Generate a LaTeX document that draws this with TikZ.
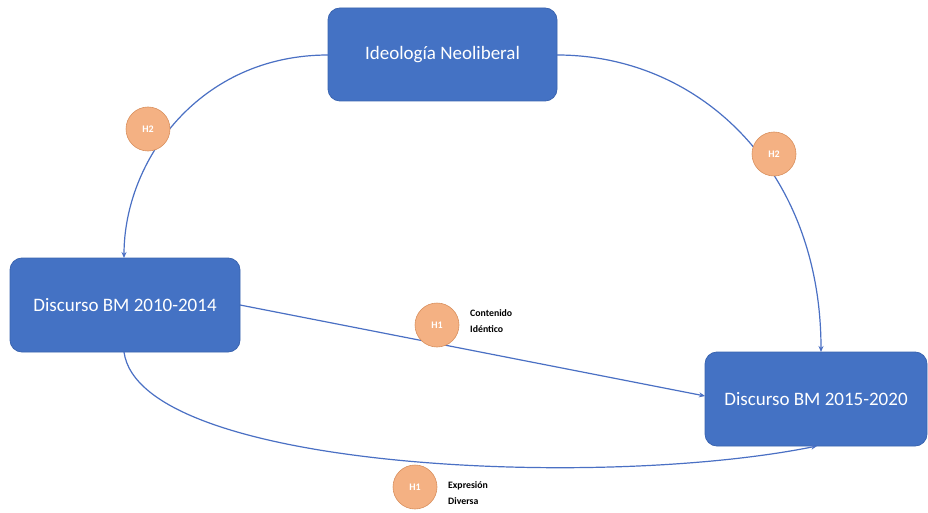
\documentclass[tikz,border=0pt]{standalone}
\usepackage{fontspec}
\setmainfont{Carlito}
\usetikzlibrary{arrows.meta}
\definecolor{boxblue}{HTML}{4472C4}
\definecolor{boxedge}{HTML}{3A64B0}
\definecolor{linkblue}{HTML}{4A70C4}
\definecolor{hfill}{HTML}{F4B183}
\definecolor{hedge}{HTML}{D9905E}
\tikzset{
  mainbox/.style={draw=boxedge, line width=0.8pt, fill=boxblue, rounded corners=12pt, text=white, font=\fontsize{19}{22}\selectfont, inner sep=0pt},
  hyp/.style={circle, draw=hedge, line width=0.6pt, fill=hfill, text=white, font=\bfseries\fontsize{10}{12}\selectfont, minimum size=44pt, inner sep=0pt},
  lab/.style={align=left, anchor=west, font=\bfseries\fontsize{9.8}{16}\selectfont, inner sep=0pt},
  link/.style={draw=linkblue, line width=1.2pt, -{Stealth[length=6pt,width=5pt]}}
}
\begin{document}
\begin{tikzpicture}[x=1pt,y=-1pt]
\fill[white] (0,0) rectangle (928,513);
\useasboundingbox (0,0) rectangle (928,513);
\node[mainbox, minimum width=229pt, minimum height=93pt] (ideo) at (442.5,54.5) {Ideología Neoliberal};
\node[mainbox, minimum width=230pt, minimum height=94pt] (d1) at (125,305) {Discurso BM 2010-2014};
\node[mainbox, minimum width=222pt, minimum height=94pt] (d2) at (816,399) {Discurso BM 2015-2020};
\coordinate (d1top) at (124,258);
\coordinate (d1bot) at (124,352);
\coordinate (d2top) at (821,352);
\coordinate (d2bot) at (817,446);
\coordinate (ideoL) at (328,55);
\coordinate (ideoR) at (557,55);
\coordinate (d1R) at (240,305);
\coordinate (d2L) at (705,396);
\draw[link] (ideoL) .. controls (200,55) and (124,160) .. (d1top);
\draw[link] (ideoR) .. controls (700,55) and (821,170) .. (d2top);
\draw[link] (d1R) -- (d2L);
\draw[link] (d1bot) .. controls (140,470) and (600,490) .. (d2bot);
\node[hyp] (h2a) at (148,129) {H2};
\node[hyp] (h2b) at (774,154) {H2};
\node[hyp] (h1a) at (437,325) {H1};
\node[hyp] (h1b) at (415,487) {H1};
\node[lab] (la) at (470,321) {Contenido\\Idéntico};
\node[lab] (lb) at (448,493) {Expresión\\Diversa};
\end{tikzpicture}
\end{document}
